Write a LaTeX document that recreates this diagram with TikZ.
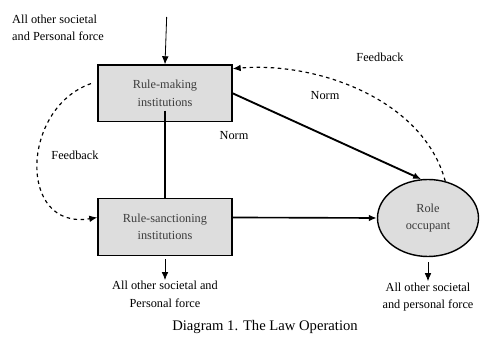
\documentclass[tikz,border=0pt]{standalone}
\usepackage{fontspec}
\setmainfont{Liberation Serif}
\usetikzlibrary{arrows.meta,positioning,shapes.geometric}
\definecolor{boxgray}{RGB}{221,221,221}
\definecolor{inktext}{RGB}{60,60,60}

\begin{document}
\begin{tikzpicture}[>={Latex[length=2.4mm,width=2mm]}, font=\fontsize{10.5}{15}\selectfont,
  inst/.style={draw, line width=1.2pt, fill=boxgray, text=inktext, minimum width=4.02cm, minimum height=1.7cm, align=center},
  force/.style={align=center, inner sep=1pt},
  fb/.style={->, dashed, line width=1pt}]
  \useasboundingbox (0,0) rectangle (14.46,10.17);
  % institutions and occupant
  \node[inst] (rm) at (4.95,7.37) {Rule-making\\institutions};
  \node[inst] (rs) at (4.95,3.36) {Rule-sanctioning\\institutions};
  \node[draw, ellipse, line width=1.2pt, fill=boxgray, text=inktext, minimum width=3.03cm, minimum height=2.31cm, inner sep=0pt, align=center] (ro) at (12.84,3.63) {Role\\occupant};
  % outside forces
  \node[force, align=left] (ftop) at (1.74,9.33) {All other societal\\and Personal force};
  \node[force, below=0.72cm of rs] (fleft) {All other societal and\\Personal force};
  \node[force, below=0.72cm of ro] (fright) {All other societal\\and personal force};
  \coordinate (src) at (5.0,9.66);
  % labels
  \node (norm1) at (7.02,6.09) {Norm};
  \node (norm2) at (9.75,7.29) {Norm};
  \node (fbright) at (11.4,8.46) {Feedback};
  \node (fbleft) at (2.25,5.52) {Feedback};
  \node[font=\fontsize{12.5}{14}\selectfont] (cap) at (7.95,0.36) {Diagram 1. The Law Operation};
  % connectors
  \draw[->, line width=0.7pt] (src) -- (rm.north);
  \draw[line width=1.2pt, shorten <=-0.35cm] (rm.south) -- (rs.north);
  \draw[->, line width=1.6pt] (rm.east) -- (ro.100);
  \draw[->, line width=1.4pt] (rs.8) -- (ro.west);
  \draw[->, line width=0.7pt, shorten <=0.1cm] (rs.south) -- (fleft.north);
  \draw[->, line width=0.7pt, shorten <=0.15cm] (ro.south) -- (fright.north);
  \draw[fb] (ro.65) to[out=105, in=5, looseness=0.9] (rm.20);
  \draw[fb, shorten <=0.2cm] (rm.170) .. controls +(-2.3,-0.8) and +(-2.4,-0.4) .. (rs.172);
\end{tikzpicture}
\end{document}
